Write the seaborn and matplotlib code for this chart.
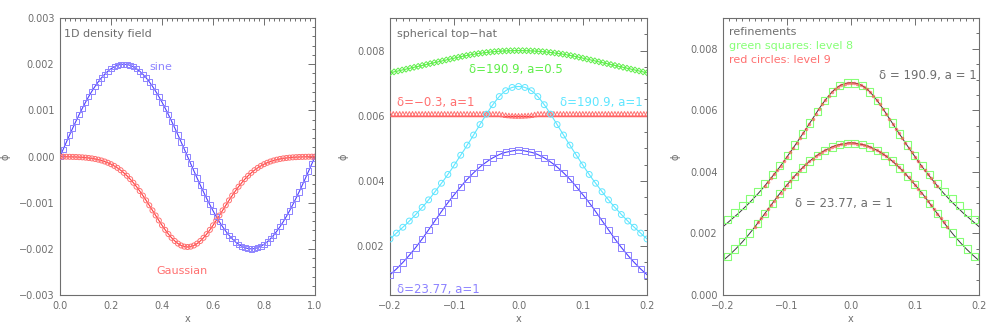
import numpy as np
import matplotlib
matplotlib.use("Agg")
import matplotlib.pyplot as plt
from matplotlib.ticker import MultipleLocator, FuncFormatter
import seaborn as sns

# ---------------- data (phi values in units of 1e-3) ----------------
# panel 1: 1D density field
x_1d = np.linspace(0.0, 1.0, 81)
phi_sine = [0.000, 0.157, 0.313, 0.467, 0.618, 0.765, 0.908, 1.045, 1.176, 1.299, 1.414,
            1.521, 1.618, 1.705, 1.782, 1.848, 1.902, 1.945, 1.975, 1.994, 2.000,
            1.994, 1.975, 1.945, 1.902, 1.848, 1.782, 1.705, 1.618, 1.521, 1.414,
            1.299, 1.176, 1.045, 0.908, 0.765, 0.618, 0.467, 0.313, 0.157, 0.000,
            -0.157, -0.313, -0.467, -0.618, -0.765, -0.908, -1.045, -1.176, -1.299, -1.414,
            -1.521, -1.618, -1.705, -1.782, -1.848, -1.902, -1.945, -1.975, -1.994, -2.000,
            -1.994, -1.975, -1.945, -1.902, -1.848, -1.782, -1.705, -1.618, -1.521, -1.414,
            -1.299, -1.176, -1.045, -0.908, -0.765, -0.618, -0.467, -0.313, -0.157, -0.000]
phi_gauss = [-0.002, -0.003, -0.004, -0.006, -0.008, -0.010, -0.014, -0.018, -0.024, -0.032,
             -0.041, -0.053, -0.068, -0.086, -0.108, -0.135, -0.166, -0.203, -0.246, -0.296,
             -0.353, -0.417, -0.489, -0.568, -0.654, -0.747, -0.846, -0.950, -1.057, -1.167,
             -1.277, -1.385, -1.490, -1.589, -1.680, -1.761, -1.830, -1.886, -1.927, -1.952,
             -1.960,
             -1.952, -1.927, -1.886, -1.830, -1.761, -1.680, -1.589, -1.490, -1.385, -1.277,
             -1.167, -1.057, -0.950, -0.846, -0.747, -0.654, -0.568, -0.489, -0.417, -0.353,
             -0.296, -0.246, -0.203, -0.166, -0.135, -0.108, -0.086, -0.068, -0.053, -0.041,
             -0.032, -0.024, -0.018, -0.014, -0.010, -0.008, -0.006, -0.004, -0.003, -0.002]

# panel 2: spherical top-hat
x_green = np.linspace(-0.2, 0.2, 65)
phi_green = [7.320, 7.348, 7.376, 7.404, 7.432, 7.460, 7.488, 7.516, 7.544, 7.573, 7.601,
             7.629, 7.657, 7.685, 7.713, 7.741, 7.769, 7.797, 7.824, 7.848, 7.871, 7.891,
             7.910, 7.927, 7.943, 7.956, 7.968, 7.978, 7.986, 7.992, 7.996, 7.999, 8.000,
             7.999, 7.996, 7.992, 7.986, 7.978, 7.968, 7.956, 7.943, 7.927, 7.910, 7.891,
             7.871, 7.848, 7.824, 7.797, 7.769, 7.741, 7.713, 7.685, 7.657, 7.629, 7.601,
             7.573, 7.544, 7.516, 7.488, 7.460, 7.432, 7.404, 7.376, 7.348, 7.320]
x_red = np.linspace(-0.2, 0.2, 81)
phi_red = ([6.06] * 35
           + [6.04, 6.02, 6.01, 6.005, 6.00, 6.00, 6.00, 6.005, 6.01, 6.02, 6.04]
           + [6.06] * 35)
x_red_line = [-0.2, 0.2]
phi_red_line = [6.00, 6.00]

x_th = np.linspace(-0.2, 0.2, 81)
# delta = 190.9, a = 1
phi_upper = [2.22, 2.31, 2.40, 2.49, 2.58, 2.67, 2.77, 2.87, 2.97, 3.08, 3.19, 3.30, 3.42, 3.54,
             3.67, 3.80, 3.93, 4.06, 4.20, 4.34, 4.49, 4.64, 4.79, 4.94, 5.10, 5.25, 5.41, 5.57,
             5.73, 5.89, 6.05, 6.20, 6.34, 6.47, 6.59, 6.69, 6.77, 6.83, 6.87, 6.89, 6.90,
             6.89, 6.87, 6.83, 6.77, 6.69, 6.59, 6.47, 6.34, 6.20, 6.05, 5.89, 5.73, 5.57, 5.41,
             5.25, 5.10, 4.94, 4.79, 4.64, 4.49, 4.34, 4.20, 4.06, 3.93, 3.80, 3.67, 3.54, 3.42,
             3.30, 3.19, 3.08, 2.97, 2.87, 2.77, 2.67, 2.58, 2.49, 2.40, 2.31, 2.22]
# delta = 23.77, a = 1
phi_lower = [1.12, 1.21, 1.30, 1.40, 1.50, 1.61, 1.72, 1.84, 1.96, 2.09, 2.22, 2.36, 2.50, 2.64,
             2.78, 2.92, 3.06, 3.20, 3.33, 3.46, 3.58, 3.70, 3.82, 3.94, 4.05, 4.15, 4.25, 4.34,
             4.43, 4.51, 4.58, 4.65, 4.71, 4.76, 4.81, 4.85, 4.88, 4.90, 4.92, 4.94, 4.95,
             4.94, 4.92, 4.90, 4.88, 4.85, 4.81, 4.76, 4.71, 4.65, 4.58, 4.51, 4.43, 4.34, 4.25,
             4.15, 4.05, 3.94, 3.82, 3.70, 3.58, 3.46, 3.33, 3.20, 3.06, 2.92, 2.78, 2.64, 2.50,
             2.36, 2.22, 2.09, 1.96, 1.84, 1.72, 1.61, 1.50, 1.40, 1.30, 1.21, 1.12]

# panel 3: refinements (level 8 cell centres, box 3/256)
x_level8 = (np.arange(-17, 17) + 0.5) * 3 / 256
phi_upper_l8 = [2.45, 2.68, 2.90, 3.13, 3.37, 3.63, 3.91, 4.21, 4.53, 4.87, 5.23, 5.59, 5.96,
                6.31, 6.60, 6.80, 6.89,
                6.89, 6.80, 6.60, 6.31, 5.96, 5.59, 5.23, 4.87, 4.53, 4.21, 3.91, 3.63, 3.37,
                3.13, 2.90, 2.68, 2.45]
phi_lower_l8 = [1.26, 1.49, 1.74, 2.02, 2.32, 2.65, 2.98, 3.30, 3.59, 3.87, 4.13, 4.35, 4.54,
                4.70, 4.81, 4.89, 4.93,
                4.93, 4.89, 4.81, 4.70, 4.54, 4.35, 4.13, 3.87, 3.59, 3.30, 2.98, 2.65, 2.32,
                2.02, 1.74, 1.49, 1.26]
l9_upper_extent = 0.135
l9_lower_extent = 0.15

# ---------------- style ----------------
sns.set_style("white")
plt.rcParams["font.family"] = ["DejaVu Sans"]

GRAY = "#6e6e6e"
BLUE_LINE, BLUE_MK = "#4f40ff", "#8d83ff"
RED_LINE, RED_MK = "#ff3c3c", "#ff7070"
GREEN = "#5fee4a"
CYAN = "#5fe6ff"
L8_GREEN = "#86ff76"
L9_RED = "#ff4040"
E3 = 1e-3


def fmt(decimals):
    def f(v, pos):
        if abs(v) < 1e-12:
            v = 0.0
        return f"{v:.{decimals}f}".replace("-", "\u2212")
    return FuncFormatter(f)


def style_axes(ax, xlim, ylim, xmaj, xmin, ymaj, ymin, xdec, ydec, ylab_x):
    ax.set_xlim(*xlim)
    ax.set_ylim(*ylim)
    ax.xaxis.set_major_locator(MultipleLocator(xmaj))
    ax.xaxis.set_minor_locator(MultipleLocator(xmin))
    ax.yaxis.set_major_locator(MultipleLocator(ymaj))
    ax.yaxis.set_minor_locator(MultipleLocator(ymin))
    ax.xaxis.set_major_formatter(fmt(xdec))
    ax.yaxis.set_major_formatter(fmt(ydec))
    ax.tick_params(which="both", direction="in", top=True, right=True,
                   colors=GRAY, labelsize=7, width=0.7)
    ax.tick_params(which="major", length=5, pad=4)
    ax.tick_params(which="minor", length=2.5)
    for s in ax.spines.values():
        s.set_color(GRAY)
        s.set_linewidth(0.8)
    ax.set_xlabel("x", color=GRAY, fontsize=7)
    ax.set_ylabel("\u03d5", color=GRAY, fontsize=7)
    ax.xaxis.set_label_coords(0.5, -0.068)
    ax.yaxis.set_label_coords(ylab_x, 0.5)


def line(ax, x, y, color, lw=0.8):
    sns.lineplot(x=x, y=np.asarray(y) * E3, ax=ax, color=color, lw=lw,
                 estimator=None, errorbar=None)


def marks(ax, x, y, marker, color, s, lw=0.7):
    sns.scatterplot(x=x, y=np.asarray(y) * E3, ax=ax, marker=marker, s=s,
                    facecolor="none", edgecolor=color, linewidth=lw, zorder=3)


fig = plt.figure(figsize=(9.97, 3.32), dpi=100)
bottom, height = 0.1114, 0.8343
ax1 = fig.add_axes([0.0602, bottom, 0.2558, height])
ax2 = fig.add_axes([0.3912, bottom, 0.2578, height])
ax3 = fig.add_axes([0.7252, bottom, 0.2568, height])

# ---- panel 1 ----
line(ax1, x_1d, phi_sine, BLUE_LINE)
marks(ax1, x_1d, phi_sine, "s", BLUE_MK, 15)
line(ax1, x_1d, phi_gauss, RED_LINE)
marks(ax1, x_1d, phi_gauss, "o", RED_MK, 13)
style_axes(ax1, (0, 1), (-0.003, 0.003), 0.2, 0.02, 0.001, 0.0002, 1, 3, -0.196)
ax1.text(0.016, 0.00265, "1D density field", color=GRAY, fontsize=8, va="center")
ax1.text(0.352, 0.00194, "sine", color=BLUE_MK, fontsize=8, va="center")
ax1.text(0.378, -0.00248, "Gaussian", color=RED_MK, fontsize=8, va="center")

# ---- panel 2 ----
line(ax2, x_green, phi_green, GREEN)
marks(ax2, x_green, phi_green, "D", GREEN, 9)
line(ax2, x_red_line, phi_red_line, RED_LINE, lw=1.0)
marks(ax2, x_red, phi_red, "^", RED_MK, 11)
line(ax2, x_th, phi_upper, CYAN)
marks(ax2, x_th[::2], phi_upper[::2], "o", CYAN, 18)
line(ax2, x_th, phi_lower, BLUE_LINE)
marks(ax2, x_th[::2], phi_lower[::2], "s", BLUE_MK, 20)
style_axes(ax2, (-0.2, 0.2), (0.0005, 0.009), 0.1, 0.01, 0.002, 0.0005, 1, 3, -0.16)
ax2.text(-0.189, 0.00852, "spherical top\u2212hat", color=GRAY, fontsize=8, va="center")
ax2.text(-0.077, 0.00742, "\u03b4=190.9, a=0.5", color=GREEN, fontsize=8.5, va="center")
ax2.text(-0.189, 0.0064, "\u03b4=\u22120.3, a=1", color=RED_MK, fontsize=8.5, va="center")
ax2.text(0.194, 0.0064, "\u03b4=190.9, a=1", color=CYAN, fontsize=8.5, va="center", ha="right")
ax2.text(-0.189, 0.00068, "\u03b4=23.77, a=1", color=BLUE_MK, fontsize=8.5, va="center")

# ---- panel 3 ----
line(ax3, x_th, phi_upper, "#3a3a3a", lw=0.7)
line(ax3, x_th, phi_lower, "#3a3a3a", lw=0.7)
marks(ax3, x_level8, phi_upper_l8, "s", L8_GREEN, 28, lw=0.8)
marks(ax3, x_level8, phi_lower_l8, "s", L8_GREEN, 28, lw=0.8)
up9 = np.abs(x_th) <= l9_upper_extent + 1e-9
lo9 = np.abs(x_th) <= l9_lower_extent + 1e-9
sns.scatterplot(x=x_th[up9], y=np.asarray(phi_upper)[up9] * E3, ax=ax3, marker="o", s=5,
                color=L9_RED, edgecolor=L9_RED, alpha=0.55, linewidth=0.3, zorder=4)
sns.scatterplot(x=x_th[lo9], y=np.asarray(phi_lower)[lo9] * E3, ax=ax3, marker="o", s=5,
                color=L9_RED, edgecolor=L9_RED, alpha=0.55, linewidth=0.3, zorder=4)
style_axes(ax3, (-0.2, 0.2), (0.0, 0.009), 0.1, 0.01, 0.002, 0.0005, 1, 3, -0.168)
ax3.text(-0.191, 0.00854, "refinements", color=GRAY, fontsize=8, va="center")
ax3.text(-0.191, 0.00808, "green squares: level 8", color=L8_GREEN, fontsize=8, va="center")
ax3.text(-0.191, 0.00762, "red circles: level 9", color=RED_MK, fontsize=8, va="center")
ax3.text(0.196, 0.00712, "\u03b4 = 190.9, a = 1", color=GRAY, fontsize=8.5, va="center", ha="right")
ax3.text(-0.088, 0.00298, "\u03b4 = 23.77, a = 1", color=GRAY, fontsize=8.5, va="center")

fig.savefig("out.png", dpi=100)
